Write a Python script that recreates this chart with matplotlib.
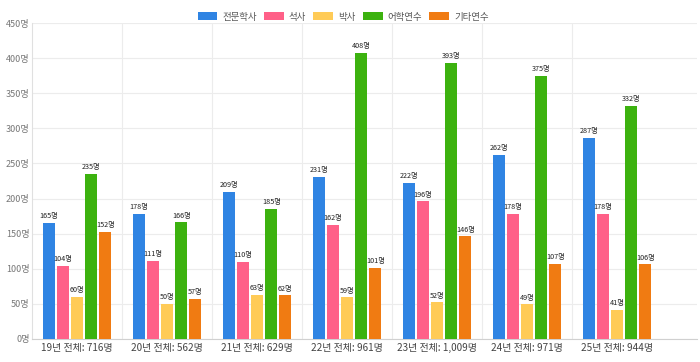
import numpy as np
import matplotlib
matplotlib.use('Agg')
import matplotlib.pyplot as plt

plt.rcParams['font.family'] = ['Noto Sans CJK KR', 'DejaVu Sans']

# data
years = ['19년', '20년', '21년', '22년', '23년', '24년', '25년']
series = ['전문학사', '석사', '박사', '어학연수', '기타연수']
colors = ['#2F84E3', '#FF6088', '#FFCB57', '#3CB20F', '#F07B12']

associate = [165, 178, 209, 231, 222, 262, 287]
master = [104, 111, 110, 162, 196, 178, 178]
doctor = [60, 50, 63, 59, 52, 49, 41]
language = [235, 166, 185, 408, 393, 375, 332]
other = [152, 57, 62, 101, 146, 107, 106]
values = [associate, master, doctor, language, other]

totals = [sum(v) for v in zip(*values)]
xlabels = [f'{y} 전체: {t:,}명' for y, t in zip(years, totals)]

fig = plt.figure(figsize=(7, 3.62), dpi=100)
ax = fig.add_axes([0.046, 0.064, 0.95, 0.872])

x = np.arange(len(years))
slot = 0.157
bw = 0.133
for i, (name, vals, c) in enumerate(zip(series, values, colors)):
    pos = x + (i - 2) * slot
    bars = ax.bar(pos, vals, width=bw, color=c, label=name, zorder=3)
    for b, v in zip(bars, vals):
        ax.text(b.get_x() + b.get_width() / 2, v + 4, f'{v}명',
                ha='center', va='bottom', fontsize=5.2, color='#222222', zorder=4)

ax.set_xlim(-0.5, 6.89)
ax.set_ylim(0, 450)
ax.set_yticks(range(0, 451, 50))
ax.set_yticklabels([f'{v}명' for v in range(0, 451, 50)], fontsize=6.5, color='#777777')
ax.set_xticks(x)
ax.set_xticklabels(xlabels, fontsize=7.2, color='#444444')
ax.tick_params(axis='both', length=0, pad=3)
ax.tick_params(axis='y', pad=2)

ax.yaxis.grid(True, color='#ECECEC', lw=0.8, zorder=0)
for gx in np.arange(0.5, 6, 1):
    ax.axvline(gx, color='#ECECEC', lw=0.8, zorder=0)

for s in ['top', 'right']:
    ax.spines[s].set_visible(False)
ax.spines['left'].set_color('#E0E0E0')
ax.spines['bottom'].set_color('#D0D0D0')

fig.legend(loc='center', bbox_to_anchor=(0.49, 0.953), ncol=5, frameon=False,
           fontsize=6.8, handlelength=2.1, handleheight=0.85, columnspacing=0.8,
           handletextpad=0.5, labelcolor='#555555')

fig.savefig('out.png', dpi=100)
